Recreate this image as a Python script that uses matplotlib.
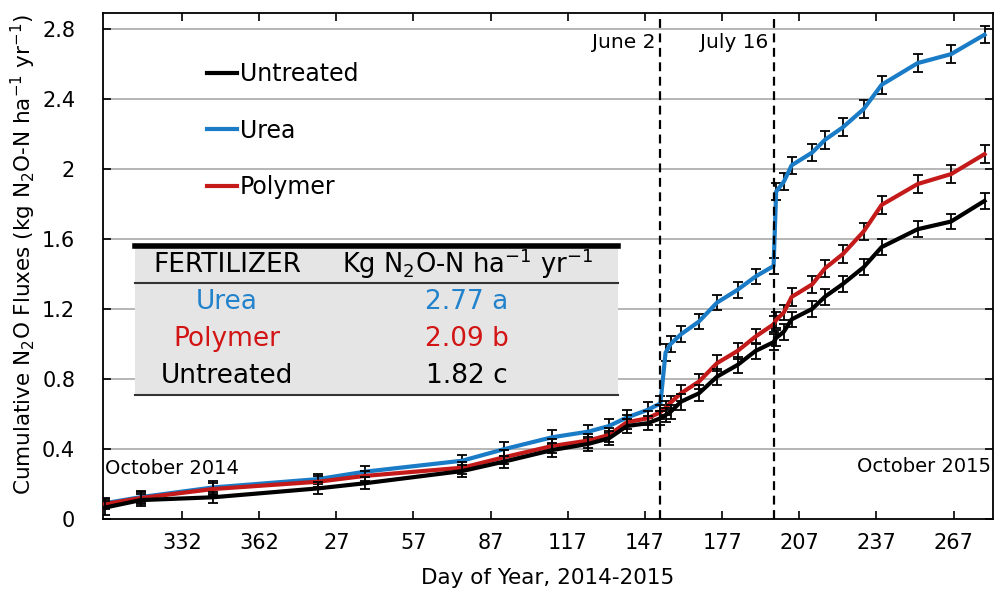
import matplotlib
matplotlib.use("Agg")
import matplotlib.pyplot as plt
from matplotlib.patches import Rectangle
from matplotlib.lines import Line2D
import numpy as np

W, H = 996, 590

# ---------------- data ----------------
day_of_year = [302, 316, 344, 20, 38, 76, 92, 111, 125, 133, 140, 148, 153, 155, 157, 161,
               168, 175, 183, 190, 197, 198, 201, 204, 212, 217, 224, 232, 239, 253, 266, 279]
year = [2014, 2014, 2014, 2015, 2015, 2015, 2015, 2015, 2015, 2015, 2015, 2015, 2015, 2015, 2015, 2015,
        2015, 2015, 2015, 2015, 2015, 2015, 2015, 2015, 2015, 2015, 2015, 2015, 2015, 2015, 2015, 2015]

urea = [0.09, 0.125, 0.18, 0.228, 0.27, 0.333, 0.398, 0.467, 0.499, 0.531, 0.58, 0.623, 0.66, 0.95,
        1.0, 1.055, 1.128, 1.236, 1.309, 1.385, 1.445, 1.87, 1.927, 2.02, 2.093, 2.166, 2.238, 2.341,
        2.48, 2.604, 2.655, 2.766]
polymer = [0.085, 0.12, 0.171, 0.213, 0.246, 0.293, 0.352, 0.417, 0.448, 0.48, 0.553, 0.575, 0.61,
           0.635, 0.665, 0.718, 0.785, 0.89, 0.96, 1.042, 1.112, 1.137, 1.18, 1.268, 1.34, 1.432,
           1.514, 1.642, 1.794, 1.913, 1.97, 2.084]
untreated = [0.065, 0.108, 0.124, 0.175, 0.204, 0.274, 0.327, 0.394, 0.429, 0.461, 0.531, 0.547,
             0.575, 0.594, 0.613, 0.67, 0.718, 0.813, 0.88, 0.96, 1.01, 1.034, 1.07, 1.14, 1.2, 1.27,
             1.343, 1.438, 1.553, 1.655, 1.699, 1.817]

urea_err = [0.03, 0.035, 0.035, 0.03, 0.03, 0.035, 0.04, 0.04, 0.04, 0.04, 0.045, 0.045, 0.045,
            0.05, 0.045, 0.045, 0.045, 0.045, 0.045, 0.045, 0.045, 0.05, 0.05, 0.05, 0.05, 0.05,
            0.05, 0.05, 0.05, 0.05, 0.05, 0.05]
polymer_err = [0.03, 0.035, 0.035, 0.03, 0.03, 0.035, 0.04, 0.04, 0.04, 0.04, 0.04, 0.04, 0.04,
               0.04, 0.04, 0.045, 0.045, 0.045, 0.045, 0.045, 0.045, 0.045, 0.045, 0.05, 0.05,
               0.05, 0.05, 0.05, 0.05, 0.05, 0.05, 0.05]
untreated_err = [0.04, 0.035, 0.03, 0.035, 0.035, 0.035, 0.035, 0.04, 0.04, 0.04, 0.04, 0.04,
                 0.04, 0.04, 0.04, 0.045, 0.045, 0.045, 0.045, 0.045, 0.045, 0.045, 0.045, 0.045,
                 0.045, 0.045, 0.045, 0.045, 0.045, 0.045, 0.045, 0.045]

tick_doy = [332, 362, 27, 57, 87, 117, 147, 177, 207, 237, 267]
tick_year = [2014, 2014, 2015, 2015, 2015, 2015, 2015, 2015, 2015, 2015, 2015]
y_ticks = [0, 0.4, 0.8, 1.2, 1.6, 2.0, 2.4, 2.8]
y_ticklabels = ["0", "0.4", "0.8", "1.2", "1.6", "2", "2.4", "2.8"]

event_doy = [153, 197]
event_year = [2015, 2015]
event_labels = ["June 2", "July 16"]

table_fert = ["Urea", "Polymer", "Untreated"]
table_vals = ["2.77 a", "2.09 b", "1.82 c"]

# ---------------- styles ----------------
C_BLACK = "#000000"
C_BLUE = "#1a7bc6"
C_RED = "#c41a1a"
T_BLUE = "#2282cc"
T_RED = "#d21414"


def cont(d, y):
    return np.array(d) + 365 * (np.array(y) - 2014)


x = cont(day_of_year, year)

plt.rcParams["font.family"] = ["DejaVu Sans"]

fig = plt.figure(figsize=(W / 100, H / 100), dpi=100)
ax = fig.add_axes([103 / W, 1 - 519 / H, (993 - 103) / W, (519 - 13) / H])

ax.set_xlim(301.3, 647.3)
ax.set_ylim(0, 2.89)

# grid
for yv in y_ticks[1:]:
    ax.axhline(yv, color="#a9a9a9", lw=1.2, zorder=0)

lw = 3.0
eb_kw = dict(ecolor="black", elinewidth=1.3, capsize=3.5, capthick=1.3)
ax.errorbar(x, urea, yerr=urea_err, color=C_BLUE, lw=lw, zorder=2, **eb_kw)
ax.errorbar(x, untreated, yerr=untreated_err, color=C_BLACK, lw=lw, zorder=3, **eb_kw)
ax.errorbar(x, polymer, yerr=polymer_err, color=C_RED, lw=lw, zorder=2.5, **eb_kw)

# event lines
ex = cont(event_doy, event_year)
for xv, lab in zip(ex, event_labels):
    ax.axvline(xv, color="black", lw=1.6, ls=(0, (4, 2.5)), zorder=4)
    ax.annotate(lab, xy=(xv, 1), xycoords=("data", "axes fraction"),
                xytext=(-5, -30), textcoords="offset pixels",
                ha="right", va="center", fontsize=14.5)

# ticks
ax.set_xticks(cont(tick_doy, tick_year))
ax.set_xticklabels([str(t) for t in tick_doy])
ax.set_yticks(y_ticks)
ax.set_yticklabels(y_ticklabels)
ax.tick_params(axis="x", direction="in", length=6, width=1.2, labelsize=15, pad=10,
               top=True)
ax.tick_params(axis="y", direction="in", length=6, width=1.2, labelsize=15, pad=20,
               right=True)
for s in ax.spines.values():
    s.set_linewidth(1.3)

ax.set_xlabel("Day of Year, 2014-2015", fontsize=15.5, va="center")
ax.xaxis.set_label_coords(0.5, (519 - 578) / (519 - 13))
ax.set_ylabel("Cumulative N$_2$O Fluxes (kg N$_2$O-N ha$^{-1}$ yr$^{-1}$)", fontsize=15.5,
              va="center")
ax.yaxis.set_label_coords((23 - 103) / 890, (519 - 255) / 506)

# corner annotations
ax.text(0.002, (519 - 468) / 506, "October 2014", transform=ax.transAxes, ha="left",
        va="center", fontsize=14)
ax.text(0.998, (519 - 467) / 506, "October 2015", transform=ax.transAxes, ha="right",
        va="center", fontsize=14)

# legend
h_un = Line2D([], [], color=C_BLACK, lw=lw)
h_ur = Line2D([], [], color=C_BLUE, lw=lw)
h_po = Line2D([], [], color=C_RED, lw=lw)
fig.legend([h_un, h_ur, h_po], ["Untreated", "Urea", "Polymer"], loc="upper left",
           bbox_to_anchor=(207 / W, 1 - 62 / H), frameon=False, fontsize=17,
           handlelength=1.25, handletextpad=0.15, labelspacing=1.38, borderpad=0,
           borderaxespad=0)

# summary table
def fxy(px, py):
    return px / W, 1 - py / H

tr = fig.transFigure
x0, x1 = 135, 618
ax.add_patch(Rectangle(fxy(x0, 395), (x1 - x0) / W, (395 - 247) / H, transform=tr,
                       facecolor="#e5e5e5", edgecolor="none", zorder=5, clip_on=False))
ax.add_line(Line2D([x0 / W, x1 / W], [1 - 245.5 / H] * 2, transform=tr, color="black",
                   lw=4, zorder=6, clip_on=False))
ax.add_line(Line2D([x0 / W, x1 / W], [1 - 283 / H] * 2, transform=tr, color="#333333",
                   lw=1.5, zorder=6, clip_on=False))
ax.add_line(Line2D([x0 / W, x1 / W], [1 - 395 / H] * 2, transform=tr, color="#333333",
                   lw=1.5, zorder=6, clip_on=False))
fig.text(*fxy(227, 265), "FERTILIZER", ha="center", va="center", fontsize=19, zorder=7)
fig.text(*fxy(467, 264), "Kg N$_2$O-N ha$^{-1}$ yr$^{-1}$", ha="center", va="center",
         fontsize=18.5, zorder=7)
row_y = [302, 339, 376]
row_c = [T_BLUE, T_RED, "black"]
for name, val, yy, cc in zip(table_fert, table_vals, row_y, row_c):
    fig.text(*fxy(227, yy), name, ha="center", va="center", fontsize=19, color=cc, zorder=7)
    fig.text(*fxy(467, yy), val, ha="center", va="center", fontsize=19, color=cc, zorder=7)

fig.savefig("out.png", dpi=100)
